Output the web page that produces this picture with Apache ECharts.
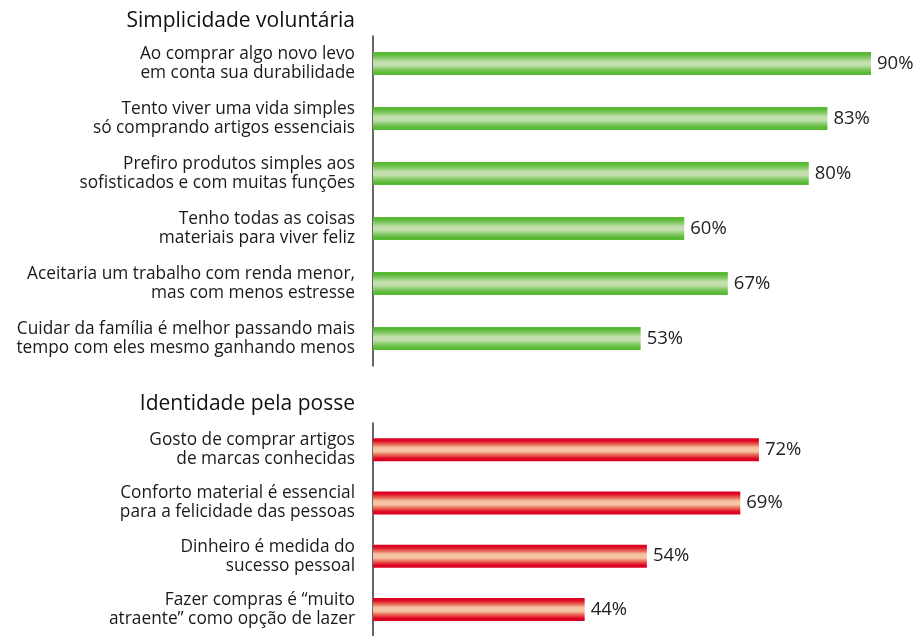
<!DOCTYPE html>
<html>
<head>
<meta charset="utf-8">
<script src="https://cdn.jsdelivr.net/npm/echarts@6/dist/echarts.min.js"></script>
<style>
  html, body { margin: 0; padding: 0; background: #fff; }
  #chart { width: 917px; height: 636px; }
</style>
</head>
<body>
<div id="chart"></div>
<script>
// Simplicidade voluntária
const simplesCats = [
  'Ao comprar algo novo levo\nem conta sua durabilidade',
  'Tento viver uma vida simples\nsó comprando artigos essenciais',
  'Prefiro produtos simples aos\nsofisticados e com muitas funções',
  'Tenho todas as coisas\nmateriais para viver feliz',
  'Aceitaria um trabalho com renda menor,\nmas com menos estresse',
  'Cuidar da família é melhor passando mais\ntempo com eles mesmo ganhando menos'
]
const simplesVals = [90, 83, 80, 60, 67, 53]

// Identidade pela posse
const posseCats = [
  'Gosto de comprar artigos\nde marcas conhecidas',
  'Conforto material é essencial\npara a felicidade das pessoas',
  'Dinheiro é medida do\nsucesso pessoal',
  'Fazer compras é “muito\natraente” como opção de lazer'
]
const posseVals = [72, 69, 54, 44]

const font = '"Open Sans", "Noto Sans", sans-serif'

// faixas horizontais: borda escura, centro claro
const grad = (edge, mid, center) => new echarts.graphic.LinearGradient(0, 0, 0, 1, [
  { offset: 0, color: edge },
  { offset: 0.1, color: edge },
  { offset: 0.28, color: mid },
  { offset: 0.42, color: center },
  { offset: 0.58, color: center },
  { offset: 0.72, color: mid },
  { offset: 0.9, color: edge },
  { offset: 1, color: edge }
])

const chart = echarts.init(document.getElementById('chart'))

const xAxisCfg = (i) => ({
  type: 'value', gridIndex: i, min: 10, max: 90,
  show: false
})
const yAxisCfg = (i, cats) => ({
  type: 'category', gridIndex: i, data: cats, inverse: true,
  axisLine: { show: true, lineStyle: { color: '#333', width: 1.5 } },
  axisTick: { show: false },
  axisLabel: {
    margin: 18, color: '#1a1a1a', fontSize: 17.3, lineHeight: 19,
    fontFamily: font, align: 'right'
  }
})
const labelCfg = {
  show: true, position: 'right', distance: 6,
  formatter: '{c}%', color: '#222', fontSize: 18.5, fontFamily: font
}

const option = {
  animation: false,
  title: [
    {
      text: 'Simplicidade voluntária', right: 557, top: 6,
      textStyle: { fontSize: 21, fontWeight: 500, color: '#111', fontFamily: font }
    },
    {
      text: 'Identidade pela posse', right: 557, top: 389,
      textStyle: { fontSize: 21, fontWeight: 500, color: '#111', fontFamily: font }
    }
  ],
  grid: [
    { left: 373, width: 498, top: 36, height: 330 },
    { left: 373, width: 498, top: 423, height: 221 }
  ],
  xAxis: [xAxisCfg(0), xAxisCfg(1)],
  yAxis: [yAxisCfg(0, simplesCats), yAxisCfg(1, posseCats)],
  series: [
    {
      type: 'bar', xAxisIndex: 0, yAxisIndex: 0, barWidth: 23,
      data: simplesVals,
      itemStyle: { color: grad('#58b935', '#8dcd70', '#c3dfae') },
      label: labelCfg
    },
    {
      type: 'bar', xAxisIndex: 1, yAxisIndex: 1, barWidth: 23,
      data: posseVals,
      itemStyle: { color: grad('#dc0021', '#ea6a58', '#f5c4a4') },
      label: labelCfg
    }
  ]
}
chart.setOption(option)
</script>
</body>
</html>
